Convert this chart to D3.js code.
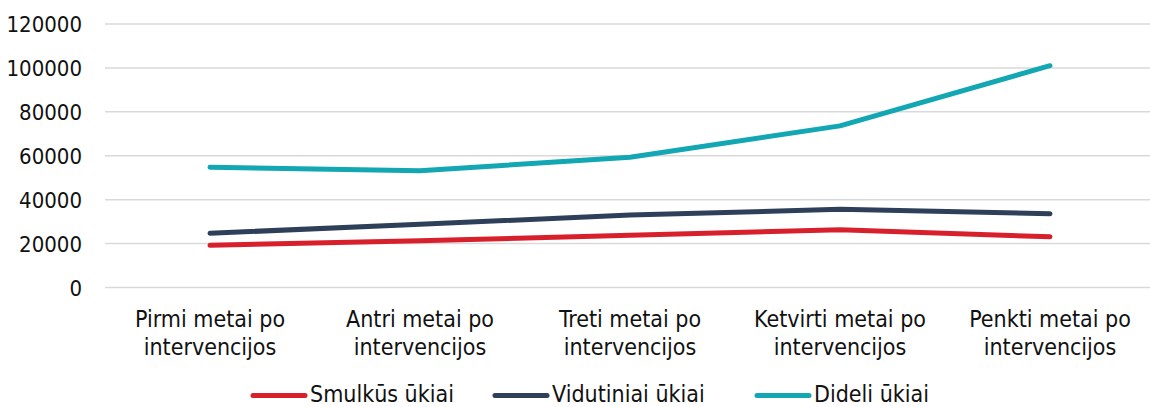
<!DOCTYPE html>
<html>
<head>
<meta charset="utf-8">
<script src="https://cdn.jsdelivr.net/npm/d3@7"></script>
<style>
  body { margin: 0; background: #fff; }
  svg text { font-family: "DejaVu Sans Condensed", "DejaVu Sans", sans-serif; font-stretch: condensed; fill: #111; }
</style>
</head>
<body>
<div id="chart"></div>
<script>
const categories = ["Pirmi metai po|intervencijos", "Antri metai po|intervencijos", "Treti metai po|intervencijos", "Ketvirti metai po|intervencijos", "Penkti metai po|intervencijos"];
const seriesNames = ["Smulkūs ūkiai", "Vidutiniai ūkiai", "Dideli ūkiai"];
const smulkus = [19200, 21300, 23800, 26300, 23100];
const vidutiniai = [24700, 28800, 33000, 35600, 33600];
const dideli = [54800, 53200, 59300, 73600, 101000];
const yTicks = [0, 20000, 40000, 60000, 80000, 100000, 120000];
const colors = ["#D7202B", "#2E3F5A", "#12A7B3"];

const width = 1150, height = 407;
const svg = d3.select("#chart").append("svg").attr("width", width).attr("height", height);

const x = d3.scalePoint().domain(categories).range([105, 1155]).padding(0.5);
const y = d3.scaleLinear().domain([0, 120000]).range([287.5, 24]);

// gridlines
svg.append("g").selectAll("line").data(yTicks).enter().append("line")
  .attr("x1", 105).attr("x2", 1150)
  .attr("y1", d => y(d)).attr("y2", d => y(d))
  .attr("stroke", "#d9d9d9").attr("stroke-width", 1.5);

// y labels
svg.append("g").selectAll("text").data(yTicks).enter().append("text")
  .attr("x", 82).attr("y", d => y(d) + 8)
  .attr("text-anchor", "end")
  .attr("font-size", "22px")
  .text(d => d);

// x labels
const xl = svg.append("g").selectAll("text").data(categories).enter().append("text")
  .attr("x", d => x(d)).attr("y", 327)
  .attr("text-anchor", "middle")
  .attr("font-size", "23px");
xl.each(function(d) {
  const parts = d.split("|");
  d3.select(this).selectAll("tspan").data(parts).enter().append("tspan")
    .attr("x", x(d)).attr("dy", (p, i) => i === 0 ? 0 : 28)
    .text(p => p);
});

// lines
const data = [smulkus, vidutiniai, dideli];
const line = d3.line().x((d, i) => x(categories[i])).y(d => y(d));
svg.append("g").selectAll("path").data(data).enter().append("path")
  .attr("d", line)
  .attr("fill", "none")
  .attr("stroke", (d, i) => colors[i])
  .attr("stroke-width", 5)
  .attr("stroke-linecap", "round")
  .attr("stroke-linejoin", "round");

// legend
const legendX = [253, 495, 757];
const lg = svg.append("g").selectAll("g").data(seriesNames).enter().append("g")
  .attr("transform", (d, i) => `translate(${legendX[i]},395.5)`);
lg.append("line").attr("x1", 0).attr("x2", 52).attr("y1", 0).attr("y2", 0)
  .attr("stroke", (d, i) => colors[i]).attr("stroke-width", 5).attr("stroke-linecap", "round");
lg.append("text").attr("x", 57).attr("y", 6.5)
  .attr("font-size", "23px").text(d => d);
</script>
</body>
</html>
